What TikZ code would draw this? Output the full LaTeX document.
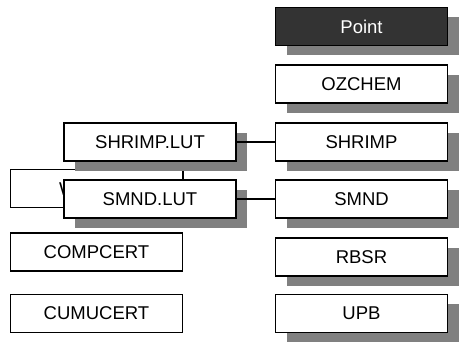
\documentclass[tikz,border=0pt]{standalone}
\usepackage{fontspec}
\setmainfont{Liberation Sans}
\usetikzlibrary{shadows,backgrounds}

\tikzset{
  filebox/.style={draw=black,line width=1.6pt,fill=white,minimum width=172pt,
    minimum height=38pt,inner sep=0pt,font=\fontsize{18.5}{20}\selectfont},
  shadowbox/.style={filebox,drop shadow={shadow xshift=11pt,shadow yshift=-10pt,
    fill=black!50,opacity=1}},
  link/.style={line width=1.6pt}
}

\begin{document}
\begin{tikzpicture}[x=1pt,y=-1pt]
\useasboundingbox (0,0) rectangle (459,344);

% programs
\node[shadowbox,fill=black!80,text=white] (point) at (361.5,26.5) {Point};
\node[shadowbox] (ozchem) at (361.5,84) {OZCHEM};
\node[shadowbox] (shrimp) at (361.5,142) {SHRIMP};
\node[shadowbox] (smnd) at (361.5,199) {SMND};
\node[shadowbox] (rbsr) at (361.5,257) {RBSR};
\node[shadowbox] (upb) at (361.5,313.5) {UPB};

% lookup tables and certificates
\node[filebox] (wlut) at (96.5,188.5) {};
\node[anchor=west,inner sep=0pt,font=\fontsize{18.5}{20}\selectfont] (wtext) at (59,189) {W};
\node[shadowbox] (shrimplut) at (150,142) {SHRIMP.LUT};
\node[shadowbox] (smndlut) at (150,199) {SMND.LUT};
\node[filebox] (compcert) at (96.5,252) {COMPCERT};
\node[filebox] (cumucert) at (96.5,313.5) {CUMUCERT};

\draw[link] (shrimplut.east) -- (shrimp.west);
\draw[link] (smndlut.east) -- (smnd.west);
\begin{scope}[on background layer]
\draw[link] ([xshift=33pt]shrimplut.south) -- ([xshift=33pt]smndlut.north);
\end{scope}
\end{tikzpicture}
\end{document}
